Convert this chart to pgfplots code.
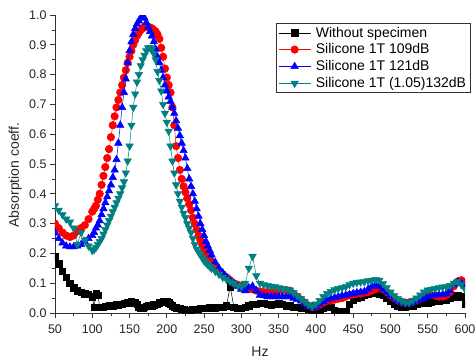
\documentclass[border=0pt]{standalone}
\usepackage{pgfplots}
\pgfplotsset{compat=1.18}
\usepackage{pgfplotstable}
\usepackage{fontspec}
\setmainfont{Liberation Sans}
\definecolor{tealc}{RGB}{0,128,128}

\pgfplotstableread{
x B R U T
50 0.19 0.30 0.27 0.36
55 0.165 0.285 0.25 0.345
60 0.14 0.27 0.235 0.33
65 0.12 0.26 0.225 0.315
70 0.10 0.255 0.222 0.305
75 0.085 0.26 0.222 0.285
80 0.075 0.275 0.225 0.23
85 0.07 0.285 0.23 0.27
90 0.065 0.295 0.24 0.245
95 0.062 0.315 0.25 0.225
100 0.055 0.34 0.26 0.21
102.5 0.02 0.35 0.27 0.213
105 0.065 0.36 0.285 0.22
107.5 0.06 0.38 0.295 0.23
110 0.02 0.40 0.31 0.24
112.5 0.02 0.43 0.33 0.25
115 0.02 0.46 0.35 0.265
117.5 0.022 0.49 0.37 0.28
120 0.022 0.52 0.39 0.295
122.5 0.024 0.55 0.41 0.31
125 0.025 0.59 0.43 0.325
127.5 0.025 0.63 0.455 0.34
130 0.027 0.66 0.48 0.355
132.5 0.028 0.69 0.515 0.37
135 0.028 0.715 0.57 0.385
137.5 0.03 0.74 0.63 0.40
140 0.03 0.765 0.69 0.42
142.5 0.032 0.79 0.74 0.44
145 0.033 0.815 0.785 0.47
147.5 0.035 0.84 0.84 0.51
150 0.036 0.86 0.88 0.56
152.5 0.038 0.88 0.91 0.63
155 0.037 0.90 0.935 0.69
157.5 0.035 0.915 0.955 0.735
160 0.03 0.93 0.97 0.775
162.5 0.02 0.94 0.98 0.80
165 0.015 0.95 0.99 0.83
167.5 0.015 0.955 0.995 0.85
170 0.02 0.96 0.99 0.865
172.5 0.022 0.96 0.975 0.88
175 0.025 0.96 0.96 0.89
177.5 0.025 0.958 0.945 0.89
180 0.025 0.955 0.93 0.885
182.5 0.028 0.95 0.91 0.87
185 0.03 0.945 0.885 0.85
187.5 0.03 0.935 0.86 0.81
190 0.035 0.92 0.84 0.78
192.5 0.037 0.89 0.815 0.745
195 0.04 0.86 0.79 0.70
197.5 0.04 0.82 0.765 0.67
200 0.038 0.79 0.745 0.64
202.5 0.035 0.765 0.725 0.61
205 0.03 0.74 0.71 0.56
207.5 0.025 0.69 0.69 0.51
210 0.02 0.63 0.67 0.47
212.5 0.018 0.56 0.645 0.43
215 0.015 0.52 0.62 0.40
217.5 0.015 0.48 0.595 0.375
220 0.012 0.45 0.57 0.355
222.5 0.012 0.425 0.545 0.335
225 0.01 0.405 0.52 0.32
227.5 0.01 0.385 0.485 0.30
230 0.01 0.365 0.45 0.285
232.5 0.01 0.345 0.425 0.27
235 0.012 0.32 0.40 0.25
237.5 0.012 0.30 0.375 0.23
240 0.012 0.28 0.35 0.215
242.5 0.012 0.26 0.325 0.205
245 0.015 0.245 0.30 0.195
247.5 0.015 0.23 0.28 0.185
250 0.015 0.215 0.26 0.175
252.5 0.015 0.20 0.24 0.168
255 0.015 0.19 0.225 0.162
257.5 0.017 0.18 0.21 0.156
260 0.017 0.17 0.195 0.15
265 0.018 0.155 0.17 0.14
270 0.02 0.14 0.15 0.13
275 0.02 0.13 0.135 0.12
280 0.025 0.12 0.12 0.113
285 0.088 0.11 0.11 0.105
290 0.02 0.10 0.10 0.10
295 0.015 0.095 0.09 0.092
300 0.015 0.09 0.08 0.088
305 0.02 0.085 0.075 0.10
310 0.025 0.08 0.085 0.15
315 0.03 0.08 0.09 0.19
320 0.03 0.075 0.075 0.125
325 0.032 0.072 0.06 0.10
330 0.033 0.07 0.058 0.095
335 0.03 0.07 0.055 0.092
340 0.028 0.07 0.055 0.09
345 0.03 0.072 0.055 0.088
350 0.032 0.075 0.055 0.085
355 0.03 0.077 0.055 0.082
360 0.025 0.077 0.055 0.08
365 0.025 0.075 0.055 0.077
370 0.02 0.065 0.05 0.068
375 0.02 0.055 0.045 0.058
380 0.018 0.045 0.04 0.048
385 0.015 0.035 0.03 0.038
390 0.012 0.025 0.022 0.028
395 0.008 0.02 0.018 0.022
400 0.005 0.022 0.022 0.03
405 0.008 0.028 0.03 0.042
410 0.015 0.035 0.038 0.055
415 0.02 0.04 0.045 0.065
420 0.02 0.042 0.05 0.072
425 0.01 0.045 0.052 0.078
430 0.005 0.048 0.055 0.082
435 0.0 0.05 0.058 0.085
440 0.005 0.055 0.06 0.088
445 0.03 0.06 0.062 0.095
450 0.045 0.062 0.065 0.10
455 0.05 0.065 0.068 0.102
460 0.055 0.065 0.07 0.104
465 0.06 0.068 0.072 0.105
470 0.065 0.07 0.08 0.108
475 0.068 0.075 0.09 0.11
480 0.07 0.08 0.095 0.112
485 0.065 0.085 0.09 0.11
490 0.06 0.08 0.08 0.098
495 0.05 0.07 0.07 0.085
500 0.04 0.06 0.06 0.07
505 0.03 0.05 0.05 0.058
510 0.025 0.042 0.04 0.048
515 0.02 0.037 0.035 0.04
520 0.02 0.035 0.03 0.035
525 0.022 0.035 0.032 0.035
530 0.025 0.038 0.035 0.042
535 0.03 0.042 0.04 0.05
540 0.032 0.048 0.045 0.06
545 0.035 0.055 0.05 0.07
550 0.035 0.06 0.055 0.077
555 0.038 0.06 0.058 0.08
560 0.04 0.058 0.06 0.082
565 0.04 0.055 0.062 0.085
570 0.042 0.055 0.062 0.087
575 0.045 0.06 0.065 0.088
580 0.05 0.07 0.075 0.092
585 0.055 0.09 0.095 0.10
590 0.06 0.105 0.105 0.105
595 0.055 0.11 0.10 0.095
600 0.03 0.105 0.09 0.08
}\data

\begin{document}
\begin{tikzpicture}
\path[use as bounding box] (0,0) rectangle (476pt,360pt);
\begin{axis}[
  at={(55pt,47pt)}, anchor=south west,
  scale only axis, width=410pt, height=298pt,
  xmin=50, xmax=600, ymin=0, ymax=1,
  axis x line*=bottom, axis y line*=left,
  axis line style={line width=0.9pt, draw=black!80, -},
  xtick={50,100,150,200,250,300,350,400,450,500,550,600},
  ytick={0,0.1,0.2,0.3,0.4,0.5,0.6,0.7,0.8,0.9,1.0},
  minor x tick num=1, minor y tick num=1,
  tick align=outside, major tick length=5pt, minor tick length=3pt,
  tick style={line width=0.8pt, black!80},
  /pgf/number format/assume math mode=true,
  tick label style={font=\fontsize{12.5}{14}\selectfont, text=black!85},
  yticklabel style={/pgf/number format/.cd, fixed, fixed zerofill, precision=1},
  xticklabel style={yshift=-3pt},
  xlabel={Hz}, ylabel={Absorption coeff.},
  label style={font=\fontsize{14}{16}\selectfont, text=black!85},
  xlabel style={at={(axis description cs:0.5,-0.131)}, anchor=center},
  ylabel style={at={(axis description cs:-0.097,0.463)}, anchor=center},
  clip mode=individual, clip marker paths=true,
  legend cell align=left,
  legend style={at={(axis description cs:0.539,0.973)}, anchor=north west,
    draw=black!80, line width=0.8pt, font=\fontsize{14}{16}\selectfont,
    inner xsep=2pt, inner ysep=1.5pt, row sep=1.2pt,
    /tikz/every odd column/.append style={column sep=3pt}},
  legend image code/.code={\draw[#1, mark repeat=2, mark phase=2] plot coordinates {(0pt,0pt) (16pt,0pt) (32pt,0pt)};},
]
\addplot[black, line width=0.5pt, mark=square*, mark size=3.2pt] table[x=x, y=B]{\data};
\addlegendentry{Without specimen}
\addplot[red, line width=0.5pt, mark=*, mark size=3.8pt] table[x=x, y=R]{\data};
\addlegendentry{Silicone 1T 109dB}
\addplot[blue, line width=0.5pt, mark=triangle*, mark size=4.3pt] table[x=x, y=U]{\data};
\addlegendentry{Silicone 1T 121dB}
\addplot[tealc, line width=0.5pt, mark=triangle*, mark size=4.3pt, mark options={rotate=180}] table[x=x, y=T]{\data};
\addlegendentry{Silicone 1T (1.05)132dB}
\end{axis}
\end{tikzpicture}
\end{document}
